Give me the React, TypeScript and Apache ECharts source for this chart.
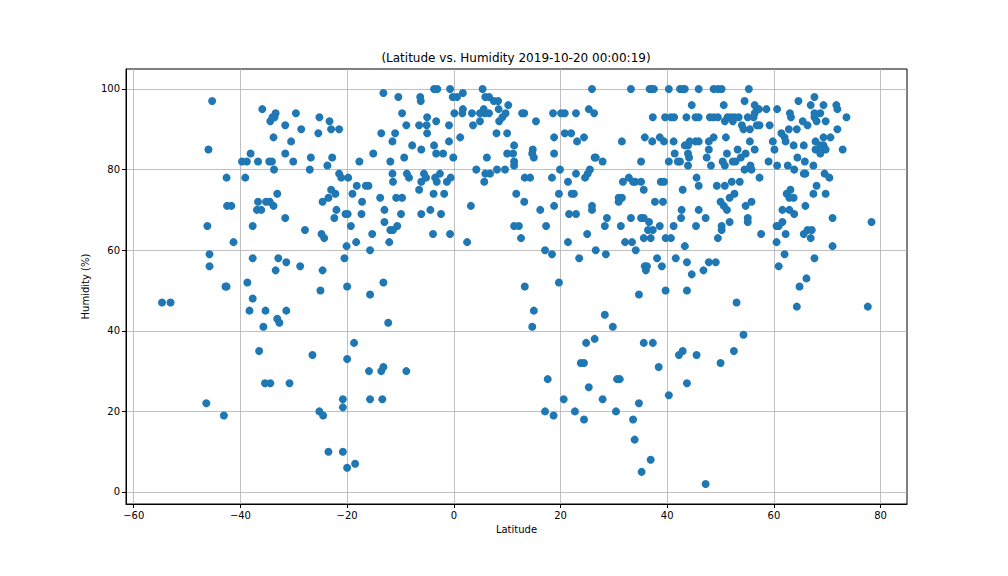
import React, { useEffect, useRef } from 'react';
import * as echarts from 'echarts';

// [latitude, humidity %], one list per hemisphere
const southernCities: number[][] = [
  [-54.7, 47], [-53.1, 47], [-46.4, 22], [-43.1, 19], [-46.0, 85], [-45.3, 97], [-46.2, 66], [-45.8, 59],
  [-45.8, 56], [-42.6, 78], [-42.5, 71], [-41.7, 71], [-41.3, 62], [-42.8, 51], [-42.6, 51],
  [-39.7, 82], [-38.8, 82], [-38.1, 84], [-36.7, 82], [-39.1, 78], [-35.9, 95], [-34.4, 92], [-34.0, 93],
  [-33.6, 93], [-33.4, 94], [-31.6, 91], [-29.6, 94], [-28.6, 90], [-33.8, 88], [-30.5, 87], [-31.6, 84],
  [-34.6, 82], [-34.1, 82], [-30.1, 82], [-26.8, 83], [-33.7, 80], [-27.0, 80], [-33.1, 74], [-36.7, 72],
  [-35.2, 72], [-34.5, 72], [-36.9, 70], [-36.1, 70], [-33.8, 71], [-31.6, 68], [-37.7, 66], [-27.9, 65],
  [-37.7, 58], [-32.9, 58], [-31.4, 57], [-33.4, 55], [-28.8, 56], [-38.7, 52], [-37.7, 48], [-38.3, 45],
  [-35.3, 45], [-31.4, 45], [-33.1, 43], [-32.7, 42], [-35.7, 41], [-36.5, 35], [-35.4, 27],
  [-34.4, 27], [-30.8, 27],
  [-13.2, 99], [-10.4, 98], [-6.3, 98], [-6.2, 97], [-3.7, 100], [-3.1, 100], [-0.7, 100], [-0.2, 98],
  [-9.7, 94], [-3.3, 92], [-5.0, 93], [-6.5, 91], [-5.1, 91], [-5.0, 89], [-0.9, 91], [-0.9, 87],
  [-8.9, 91], [-11.0, 89], [-13.6, 89], [-11.5, 87], [-7.8, 86], [-6.1, 85], [-3.7, 86], [-3.3, 84],
  [-2.0, 84], [-0.1, 83], [-15.1, 84], [-9.3, 83], [-11.9, 82], [-17.7, 82], [-25.2, 93], [-23.3, 92],
  [-23.0, 90], [-21.5, 90], [-25.4, 89], [-22.8, 83], [-23.7, 81], [-21.5, 79], [-21.1, 78], [-19.8, 78],
  [-11.5, 79], [-11.4, 77], [-8.8, 79], [-8.4, 78], [-5.6, 79], [-5.2, 78], [-6.1, 77], [-3.5, 78],
  [-3.2, 77], [-2.6, 79], [-1.3, 77], [-0.6, 78], [-18.2, 76], [-16.5, 76], [-16.0, 76], [-23.0, 75],
  [-22.2, 74], [-23.5, 73], [-24.6, 72], [-19.0, 74], [-17.2, 72], [-13.8, 73], [-10.8, 73], [-9.7, 73],
  [-6.5, 75], [-3.8, 74], [-1.8, 74], [-22.0, 70], [-22.4, 68], [-20.3, 69], [-19.9, 69], [-17.3, 69],
  [-13.0, 70], [-9.9, 69], [-6.1, 69], [-4.4, 70], [-2.4, 69], [-19.3, 66], [-13.0, 67], [-10.6, 66],
  [-11.9, 65], [-11.4, 65], [-24.8, 64], [-24.3, 63], [-15.3, 64], [-3.9, 64], [-0.7, 64], [-18.3, 62],
  [-12.1, 62], [-20.1, 61], [-15.7, 60], [-20.5, 58], [-24.6, 55], [-13.2, 52], [-20.0, 51], [-25.0, 50],
  [-15.7, 49], [-12.3, 42], [-18.7, 37], [-26.5, 34], [-20.0, 33], [-13.2, 31], [-13.6, 30], [-15.9, 30],
  [-8.9, 30], [-20.8, 23], [-15.7, 23], [-13.4, 23], [-20.8, 21], [-25.2, 20], [-24.5, 19], [-23.5, 10],
  [-20.8, 10], [-20.0, 6], [-18.5, 7],
];

const northernCities: number[][] = [
  [0.6, 98], [1.7, 99], [5.4, 100], [5.9, 98], [6.6, 98], [7.5, 97], [8.3, 97], [8.4, 95], [0.1, 94],
  [1.7, 95], [1.6, 94], [3.4, 94], [4.9, 94], [5.6, 95], [5.8, 94], [6.6, 94], [4.9, 92], [3.6, 91],
  [8.5, 92], [8.0, 89], [1.2, 88], [4.2, 80], [5.9, 79], [6.8, 79], [5.7, 77], [8.1, 80], [6.2, 83],
  [3.2, 71], [2.5, 62],
  [25.9, 100], [33.2, 100], [36.7, 100], [37.1, 100], [37.5, 100], [40.3, 100], [42.4, 100], [43.0, 100],
  [43.3, 100], [45.9, 100], [10.2, 96], [9.7, 94], [9.1, 93], [12.8, 94], [13.2, 94], [15.4, 92],
  [18.6, 94], [20.1, 94], [20.8, 94], [22.9, 94], [25.3, 95], [26.3, 94], [10.0, 89], [18.8, 88],
  [20.8, 89], [22.0, 89], [23.1, 87], [24.4, 88], [11.3, 86], [10.0, 84], [11.1, 84], [14.8, 85],
  [14.7, 84], [15.0, 83], [18.8, 84], [11.3, 82], [11.3, 81], [26.4, 83], [26.6, 83], [27.9, 82],
  [9.6, 80], [19.9, 80], [13.3, 78], [14.3, 78], [18.4, 78], [21.4, 77], [22.9, 79], [24.6, 78],
  [25.1, 79], [25.5, 80], [11.7, 74], [19.7, 74], [22.1, 74], [22.5, 74], [13.2, 72], [18.8, 71],
  [16.2, 70], [25.9, 71], [25.9, 70], [21.6, 69], [22.9, 69], [11.3, 66], [12.2, 66], [17.3, 66],
  [12.6, 63], [25.0, 64], [21.4, 62], [17.1, 60], [18.4, 59], [26.6, 60], [28.5, 59], [23.5, 58],
  [13.3, 51], [19.7, 52],
  [31.5, 87], [35.8, 88], [37.2, 87], [38.6, 88], [39.4, 87], [41.2, 87], [37.3, 93], [39.6, 93],
  [40.7, 93], [41.3, 93], [43.6, 93], [45.3, 93], [45.9, 93], [44.6, 96], [43.3, 86], [43.9, 86],
  [44.2, 87], [45.3, 87], [45.9, 87], [41.4, 84], [43.9, 84], [44.1, 83], [35.1, 82], [40.3, 82],
  [42.0, 82], [42.4, 82], [43.9, 81], [32.8, 78], [31.7, 77], [33.6, 77], [34.0, 77], [35.1, 77],
  [38.8, 77], [39.4, 77], [35.6, 75], [42.9, 75], [45.5, 78], [45.9, 76], [30.9, 73], [31.5, 73],
  [30.9, 72], [37.7, 72], [39.2, 72], [42.7, 70], [45.9, 70], [28.7, 68], [33.2, 68], [35.1, 68],
  [35.6, 68], [42.6, 68], [28.3, 66], [31.3, 66], [36.6, 67], [38.6, 66], [41.2, 66], [45.4, 66],
  [36.4, 65], [37.3, 65], [35.6, 63], [36.9, 63], [39.7, 63], [40.7, 63], [32.1, 62], [33.4, 62],
  [34.1, 60], [43.3, 61], [38.1, 58], [41.6, 58], [35.8, 56], [36.2, 56], [36.0, 55], [39.0, 56],
  [43.7, 57], [44.6, 54], [39.7, 50], [43.7, 50],
  [34.7, 49], [15.0, 45], [14.7, 41], [28.3, 44], [29.8, 41], [26.4, 38], [24.8, 37], [35.6, 37],
  [37.3, 37], [23.8, 32], [24.4, 32], [38.4, 31], [42.2, 34], [42.9, 35], [45.5, 34], [17.6, 28],
  [30.6, 28], [31.1, 28], [43.7, 27], [25.3, 26], [20.6, 23], [27.9, 23], [40.3, 24], [17.1, 20],
  [18.7, 19], [22.7, 20], [24.4, 18], [30.4, 20], [34.7, 22], [33.6, 18], [33.9, 13], [36.9, 8],
  [35.2, 5],
  [48.7, 100], [49.5, 100], [50.2, 100], [55.3, 100], [50.6, 96], [54.5, 97], [56.4, 96], [56.8, 95],
  [57.2, 95], [58.6, 95], [60.6, 95], [64.6, 97], [67.6, 98], [66.9, 96], [69.3, 96], [71.7, 96],
  [71.9, 95], [48.0, 93], [48.7, 93], [49.5, 93], [50.8, 92], [51.3, 93], [51.9, 93], [52.3, 92],
  [52.6, 93], [53.4, 93], [55.1, 93], [56.2, 93], [56.4, 94], [54.0, 91], [54.3, 90], [55.5, 90],
  [56.8, 91], [57.3, 91], [59.2, 91], [63.0, 94], [63.2, 93], [65.4, 92], [66.3, 91], [67.6, 94],
  [68.7, 94], [67.6, 93], [68.0, 92], [69.7, 92], [73.6, 93], [71.9, 90], [47.8, 87], [48.7, 88],
  [51.0, 88], [47.8, 85], [47.4, 83], [51.2, 84], [53.2, 85], [55.5, 87], [56.4, 85], [54.7, 84],
  [53.8, 83], [50.4, 82], [50.8, 81], [52.3, 82], [52.8, 82], [48.2, 81], [54.5, 80], [55.6, 81],
  [55.8, 80], [59.8, 87], [60.1, 85], [59.0, 82], [60.6, 81], [62.6, 81], [61.4, 89], [62.0, 88],
  [62.2, 87], [62.8, 90], [64.3, 90], [63.7, 86], [65.6, 86], [64.4, 83], [65.8, 82], [63.8, 80],
  [65.6, 79], [65.9, 79], [67.4, 81], [67.8, 87], [69.3, 88], [70.6, 88], [68.7, 86], [69.3, 86],
  [67.8, 85], [68.6, 85], [69.7, 85], [68.7, 84], [72.9, 85], [69.5, 79], [70.4, 78], [68.0, 76],
  [67.4, 74], [69.7, 74], [57.3, 78], [49.3, 76], [50.8, 76], [52.1, 77], [53.6, 77], [52.6, 74],
  [51.7, 73], [50.0, 72], [50.6, 71], [51.2, 70], [55.8, 72], [54.7, 71], [47.2, 68], [51.7, 67],
  [55.1, 68], [55.1, 67], [50.2, 66], [50.2, 65], [49.5, 63], [57.6, 64], [63.1, 75], [62.4, 74],
  [62.9, 73], [63.7, 73], [65.9, 71], [61.6, 70], [62.9, 70], [63.8, 69], [71.0, 68], [61.6, 67],
  [60.9, 66], [60.5, 66], [62.2, 64], [65.6, 64], [66.3, 65], [67.1, 65], [66.9, 63], [78.3, 67],
  [60.5, 62], [71.0, 61], [62.0, 59], [67.6, 58], [60.9, 56], [47.8, 57], [49.1, 57], [46.8, 55],
  [66.1, 53], [64.8, 51], [53.0, 47], [64.3, 46], [77.6, 46], [54.3, 39], [52.5, 35], [50.0, 32],
  [47.2, 2],
];

const latTicks = [-60, -40, -20, 0, 20, 40, 60, 80];
const humTicks = [0, 20, 40, 60, 80, 100];

const FONT = 'DejaVu Sans';
const minus = (v: number | string) => String(v).replace('-', '\u2212');

const App = () => {
  const chartRef = useRef<HTMLDivElement>(null);

  useEffect(() => {
    const chart = echarts.init(chartRef.current, null, { renderer: 'svg' });

    chart.setOption({
      animation: false,
      title: {
        text: '(Latitude vs. Humidity 2019-10-20 00:00:19)',
        left: 516,
        top: 52,
        padding: 0,
        textAlign: 'center',
        textStyle: { fontFamily: FONT, fontSize: 12, fontWeight: 'normal', color: '#000' },
      },
      grid: {
        left: 126,
        top: 69,
        right: 101,
        bottom: 72,
        show: true,
        borderColor: '#000',
        borderWidth: 1,
        backgroundColor: 'transparent',
      },
      xAxis: {
        type: 'value',
        min: -61.45,
        max: 84.95,
        name: 'Latitude',
        nameLocation: 'middle',
        nameGap: 20,
        nameTextStyle: { fontFamily: FONT, fontSize: 10, color: '#000' },
        axisLine: { show: true, onZero: false, lineStyle: { color: '#000', width: 1 } },
        axisTick: { show: true, length: 4, customValues: latTicks, lineStyle: { color: '#000' } },
        axisLabel: {
          customValues: latTicks,
          margin: 6,
          fontFamily: FONT,
          fontSize: 10,
          color: '#000',
          formatter: minus,
        },
        splitLine: { show: true, lineStyle: { color: '#b0b0b0', width: 0.8 } },
      },
      yAxis: {
        type: 'value',
        min: -2.98,
        max: 104.96,
        name: 'Humidity (%)',
        nameLocation: 'middle',
        nameGap: 28,
        nameTextStyle: { fontFamily: FONT, fontSize: 10, color: '#000' },
        axisLine: { show: true, onZero: false, lineStyle: { color: '#000', width: 1 } },
        axisTick: { show: true, length: 4, customValues: humTicks, lineStyle: { color: '#000' } },
        axisLabel: {
          customValues: humTicks,
          margin: 6,
          fontFamily: FONT,
          fontSize: 10,
          color: '#000',
          formatter: minus,
        },
        splitLine: { show: true, lineStyle: { color: '#b0b0b0', width: 0.8 } },
      },
      series: [
        {
          type: 'scatter',
          data: [...southernCities, ...northernCities],
          symbolSize: 8,
          itemStyle: { color: '#1f77b4', opacity: 1 },
        },
      ],
    });

    return () => {
      chart.dispose();
    };
  }, []);

  return (
    <div
      ref={chartRef}
      style={{ position: 'absolute', left: 0, top: 0, width: 1008, height: 576, background: '#fff' }}
    />
  );
};

export default App;
